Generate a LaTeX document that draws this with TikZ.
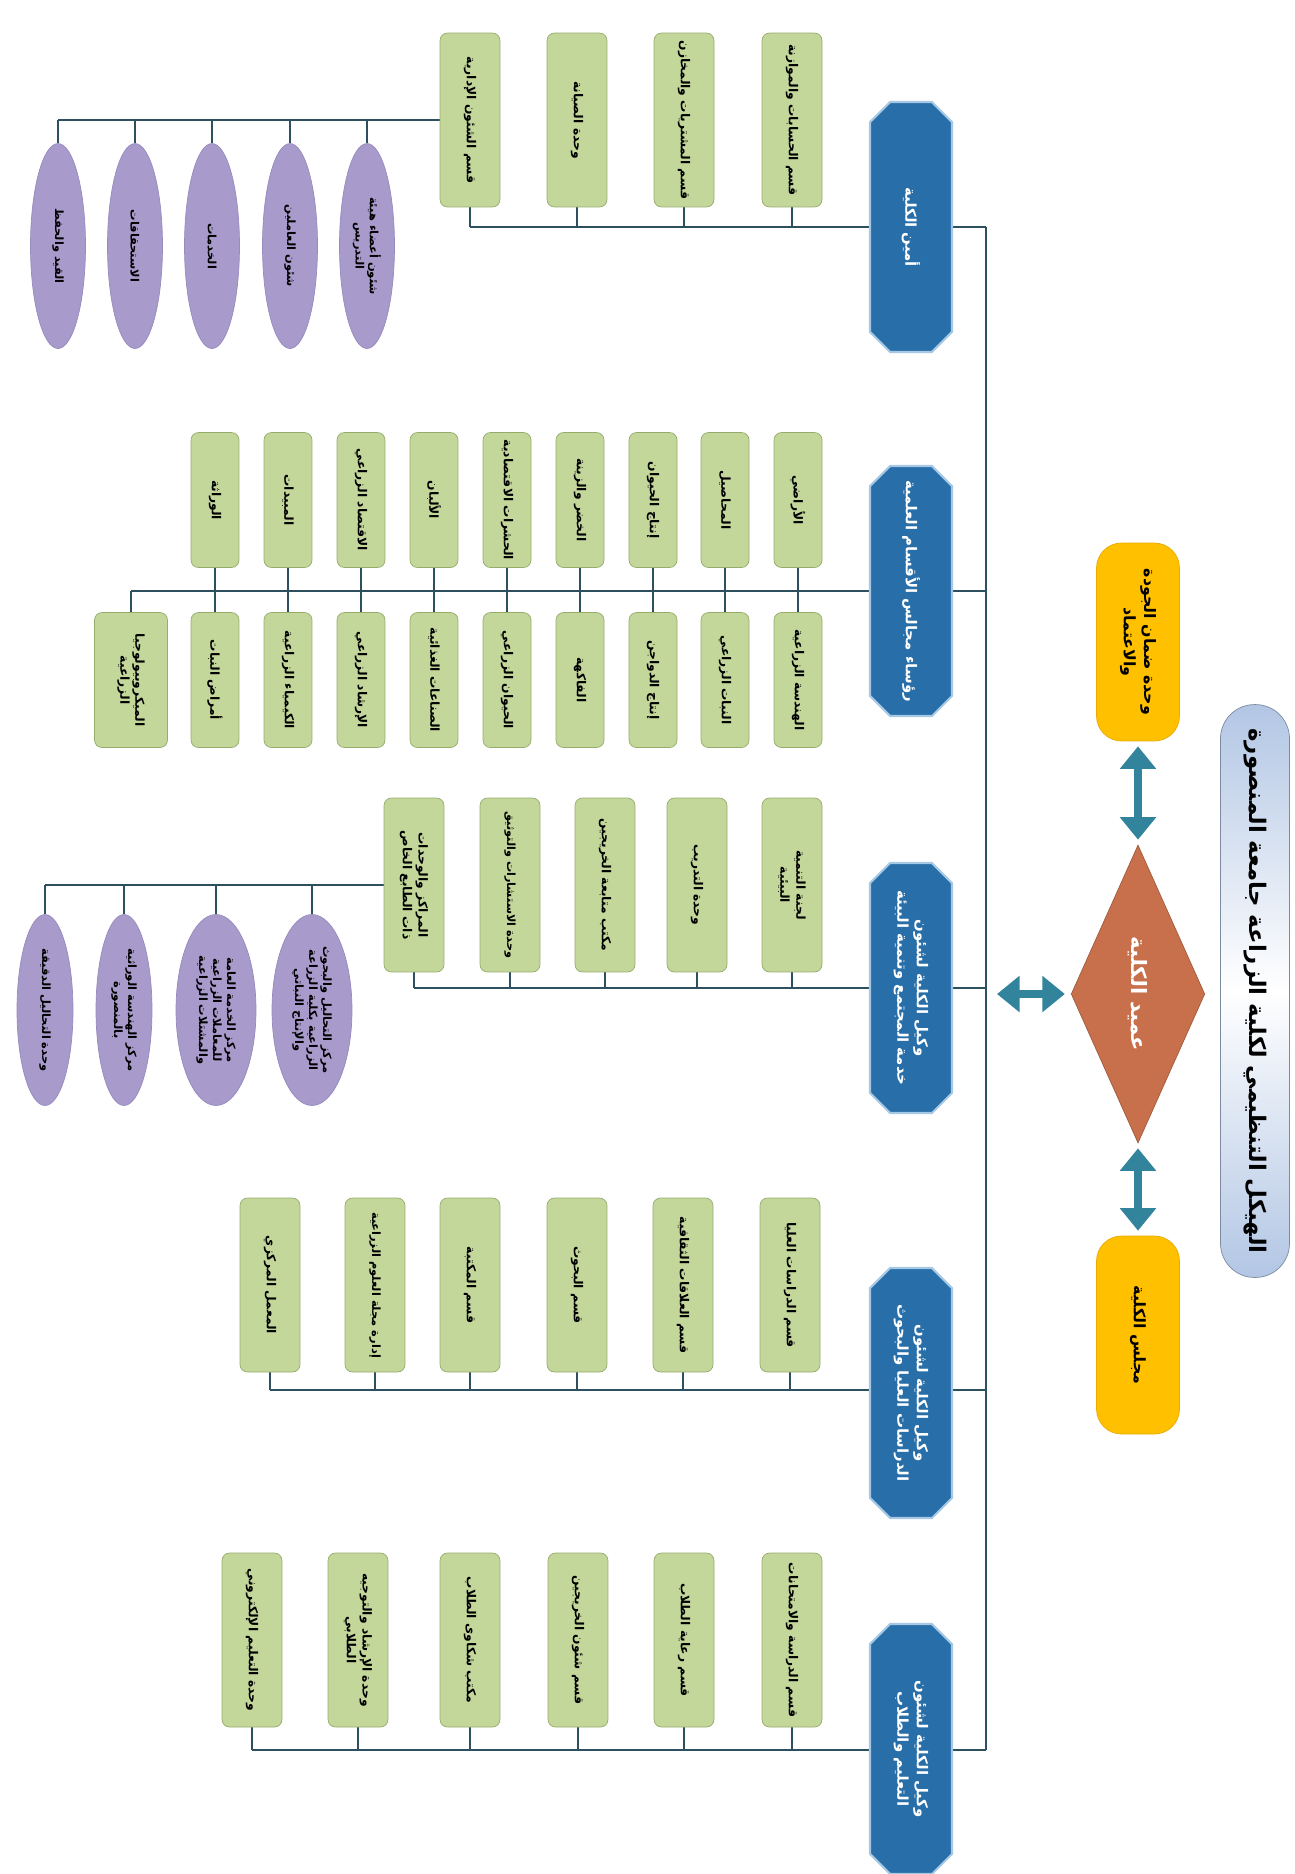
\documentclass[tikz,border=0pt]{standalone}
\usepackage{fontspec}
\newfontfamily\arabicfont[Script=Arabic]{DejaVu Sans}
\TeXXeTstate=1
\usetikzlibrary{shapes.geometric,shapes.misc,arrows.meta,backgrounds}

\definecolor{boxgreen}{RGB}{196,215,155}
\definecolor{greenedge}{RGB}{150,172,108}
\definecolor{viceblue}{RGB}{40,110,168}
\definecolor{viceedge}{RGB}{165,200,228}
\definecolor{ovalpurple}{RGB}{168,155,204}
\definecolor{ovaledge}{RGB}{150,138,190}
\definecolor{gold}{RGB}{255,192,0}
\definecolor{goldedge}{RGB}{235,170,0}
\definecolor{deanred}{RGB}{200,112,76}
\definecolor{linkcol}{RGB}{45,80,95}
\definecolor{arrowteal}{RGB}{49,132,155}
\definecolor{titleblue}{RGB}{178,198,228}

\newcommand{\artxt}[1]{\beginR #1\endR}

\tikzset{
  deptbox/.style={rectangle, rounded corners=0.15cm, draw=greenedge, fill=boxgreen,
    rotate=-90, minimum width=3.48cm, minimum height=1.2cm, inner sep=1pt, align=center,
    font=\arabicfont\bfseries\fontsize{7}{9}\selectfont},
  smalldept/.style={deptbox, minimum width=2.7cm, minimum height=0.96cm,
    font=\arabicfont\bfseries\fontsize{7}{8.5}\selectfont},
  vicebox/.style={chamfered rectangle, chamfered rectangle xsep=0.2cm,
    chamfered rectangle ysep=0.2cm, fill=viceblue, draw=viceedge, line width=1.2pt,
    text=white, rotate=-90, minimum width=5cm, minimum height=1.64cm, inner sep=1pt,
    align=center, font=\arabicfont\bfseries\fontsize{8.5}{11}\selectfont},
  unitoval/.style={ellipse, fill=ovalpurple, draw=ovaledge, rotate=-90,
    minimum width=4.1cm, minimum height=1.1cm, inner sep=0pt, align=center,
    font=\arabicfont\bfseries\fontsize{6.5}{8}\selectfont},
  goldbox/.style={rectangle, rounded corners=0.5cm, fill=gold, draw=goldedge, rotate=-90,
    minimum width=3.96cm, minimum height=1.66cm, align=center,
    font=\arabicfont\bfseries\fontsize{9}{11.5}\selectfont},
  deanshape/.style={diamond, fill=deanred, draw=deanred!80!black, text=white, rotate=-90,
    minimum width=5.96cm, minimum height=2.28cm, inner sep=0pt,
    font=\arabicfont\bfseries\fontsize{12}{14}\selectfont},
  titlebar/.style={rectangle, rounded corners=0.68cm, draw=titleblue!70!black,
    top color=titleblue, bottom color=titleblue, middle color=white, rotate=-90,
    minimum width=11.46cm, minimum height=1.38cm,
    font=\arabicfont\bfseries\fontsize{13}{15}\selectfont},
  link/.style={draw=linkcol, line width=1pt},
  twoway/.style={draw=arrowteal, line width=5pt,
    {Triangle[length=0.45cm,width=0.7cm]}-{Triangle[length=0.45cm,width=0.7cm]}},
}

\begin{document}
\begin{tikzpicture}[x=0.02cm, y=-0.02cm]
\useasboundingbox (0,0) rectangle (1295,1874);

% top of the chart
\node[titlebar] (title) at (1255,991) {\artxt{الهيكل التنظيمي لكلية الزراعة جامعة المنصورة}};
\node[deanshape] (dean) at (1138,994) {\artxt{عميد الكلية}};
\node[goldbox] (qual) at (1138,642) {\artxt{وحدة ضمان الجودة}\\\artxt{والاعتماد}};
\node[goldbox] (council) at (1138,1335) {\artxt{مجلس الكلية}};
\coordinate (hub) at (986,994);
\draw[twoway, shorten <=0.1cm, shorten >=0.1cm] (qual) -- (dean);
\draw[twoway, shorten <=0.1cm, shorten >=0.1cm] (dean) -- (council);
\draw[twoway, shorten <=0.12cm, shorten >=0.22cm] (dean) -- (hub);

% vice deans
\node[vicebox] (v1) at (911,227) {\artxt{أمين الكلية}};
\node[vicebox] (v2) at (911,591) {\artxt{رؤساء مجالس الأقسام العلمية}};
\node[vicebox] (v3) at (911,988) {\artxt{وكيل الكلية لشئون}\\\artxt{خدمة المجتمع وتنمية البيئة}};
\node[vicebox] (v4) at (911,1393) {\artxt{وكيل الكلية لشئون}\\\artxt{الدراسات العليا والبحوث}};
\node[vicebox] (v5) at (911,1749) {\artxt{وكيل الكلية لشئون}\\\artxt{التعليم والطلاب}};

% group 1
\node[deptbox] (g1a) at (792,120) {\artxt{قسم الحسابات والموازنة}};
\node[deptbox] (g1b) at (684,120) {\artxt{قسم المشتريات والمخازن}};
\node[deptbox] (g1c) at (577,120) {\artxt{وحدة الصيانة}};
\node[deptbox] (g1d) at (470,120) {\artxt{قسم الشئون الإدارية}};
\node[unitoval] (e1a) at (367,246) {\artxt{شئون أعضاء هيئة}\\\artxt{التدريس}};
\node[unitoval] (e1b) at (290,246) {\artxt{شئون العاملين}};
\node[unitoval] (e1c) at (212,246) {\artxt{الخدمات}};
\node[unitoval] (e1d) at (135,246) {\artxt{الاستحقاقات}};
\node[unitoval] (e1e) at (58,246) {\artxt{القيد والحفظ}};

% group 2
\node[smalldept] (u2a) at (798,500) {\artxt{الأراضي}};
\node[smalldept] (u2b) at (725,500) {\artxt{المحاصيل}};
\node[smalldept] (u2c) at (653,500) {\artxt{إنتاج الحيوان}};
\node[smalldept] (u2d) at (580,500) {\artxt{الخضر والزينة}};
\node[smalldept] (u2e) at (507,500) {\artxt{الحشرات الاقتصادية}};
\node[smalldept] (u2f) at (434,500) {\artxt{الألبان}};
\node[smalldept] (u2g) at (361,500) {\artxt{الاقتصاد الزراعي}};
\node[smalldept] (u2h) at (288,500) {\artxt{المبيدات}};
\node[smalldept] (u2i) at (215,500) {\artxt{الوراثة}};
\node[smalldept] (l2a) at (798,680) {\artxt{الهندسة الزراعية}};
\node[smalldept] (l2b) at (725,680) {\artxt{النبات الزراعي}};
\node[smalldept] (l2c) at (653,680) {\artxt{إنتاج الدواجن}};
\node[smalldept] (l2d) at (580,680) {\artxt{الفاكهة}};
\node[smalldept] (l2e) at (507,680) {\artxt{الحيوان الزراعي}};
\node[smalldept] (l2f) at (434,680) {\artxt{الصناعات الغذائية}};
\node[smalldept] (l2g) at (361,680) {\artxt{الإرشاد الزراعي}};
\node[smalldept] (l2h) at (288,680) {\artxt{الكيمياء الزراعية}};
\node[smalldept] (l2i) at (215,680) {\artxt{أمراض النبات}};
\node[smalldept, minimum height=1.46cm] (l2j) at (131,680) {\artxt{الميكروبيولوجيا}\\\artxt{الزراعية}};

% group 3
\node[deptbox] (g3a) at (792,885) {\artxt{لجنة التنمية}\\\artxt{البيئية}};
\node[deptbox] (g3b) at (697,885) {\artxt{وحدة التدريب}};
\node[deptbox] (g3c) at (605,885) {\artxt{مكتب متابعة الخريجين}};
\node[deptbox, font=\arabicfont\bfseries\fontsize{6.4}{8}\selectfont] (g3d) at (510,885) {\artxt{وحدة الاستشارات والتوثيق}};
\node[deptbox] (g3e) at (414,885) {\artxt{المراكز والوحدات}\\\artxt{ذات الطابع الخاص}};
\node[unitoval, minimum width=3.82cm, minimum height=1.6cm] (e3a) at (312,1010)
  {\artxt{مركز التحاليل والبحوث}\\\artxt{الزراعية بكلية الزراعة}\\\artxt{والإنتاج النباتي}};
\node[unitoval, minimum width=3.82cm, minimum height=1.6cm] (e3b) at (216,1010)
  {\artxt{مركز الخدمة العامة}\\\artxt{للمعاملات الزراعية}\\\artxt{والمشتلات الزراعية}};
\node[unitoval, minimum width=3.82cm, minimum height=1.12cm] (e3c) at (124,1010)
  {\artxt{مركز الهندسة الوراثية}\\\artxt{بالمنصورة}};
\node[unitoval, minimum width=3.82cm, minimum height=1.12cm] (e3d) at (45,1010)
  {\artxt{وحدة التحاليل الدقيقة}};

% group 4
\node[deptbox] (g4a) at (790,1285) {\artxt{قسم الدراسات العليا}};
\node[deptbox] (g4b) at (683,1285) {\artxt{قسم العلاقات الثقافية}};
\node[deptbox] (g4c) at (577,1285) {\artxt{قسم البحوث}};
\node[deptbox] (g4d) at (470,1285) {\artxt{قسم المكتبة}};
\node[deptbox, font=\arabicfont\bfseries\fontsize{6.5}{8}\selectfont] (g4e) at (375,1285) {\artxt{إدارة مجلة العلوم الزراعية}};
\node[deptbox] (g4f) at (270,1285) {\artxt{المعمل المركزي}};

% group 5
\node[deptbox] (g5a) at (792,1640) {\artxt{قسم الدراسة والامتحانات}};
\node[deptbox] (g5b) at (684,1640) {\artxt{قسم رعاية الطلاب}};
\node[deptbox] (g5c) at (578,1640) {\artxt{قسم شئون الخريجين}};
\node[deptbox] (g5d) at (470,1640) {\artxt{مكتب شكاوى الطلاب}};
\node[deptbox] (g5e) at (358,1640) {\artxt{وحدة الإرشاد والتوجيه}\\\artxt{الطلابي}};
\node[deptbox] (g5f) at (252,1640) {\artxt{وحدة التعليم الإلكتروني}};

% connectors behind the boxes
\begin{scope}[on background layer]
  \coordinate (t1) at (986,227);
  \coordinate (t2) at (986,591);
  \coordinate (t3) at (986,988);
  \coordinate (t4) at (986,1390);
  \coordinate (t5) at (986,1750);
  \draw[link] (t1) -- (t5);
  % group 1
  \draw[link] (t1) -- (g1d.east |- t1);
  \foreach \n in {g1a,g1b,g1c,g1d}
    \draw[link] (\n.east) -- (\n.east |- t1);
  \draw[link] (g1d.south) -- (e1e.west |- g1d.south);
  \foreach \n in {e1a,e1b,e1c,e1d,e1e}
    \draw[link] (\n.west) -- (\n.west |- g1d.south);
  % group 2
  \draw[link] (t2) -- (l2j.west |- t2);
  \foreach \n in {u2a,u2b,u2c,u2d,u2e,u2f,u2g,u2h,u2i}
    \draw[link] (\n.east) -- (\n.east |- t2);
  \foreach \n in {l2a,l2b,l2c,l2d,l2e,l2f,l2g,l2h,l2i,l2j}
    \draw[link] (\n.west) -- (\n.west |- t2);
  % group 3
  \draw[link] (t3) -- (g3e.east |- t3);
  \foreach \n in {g3a,g3b,g3c,g3d,g3e}
    \draw[link] (\n.east) -- (\n.east |- t3);
  \draw[link] (g3e.south) -- (e3d.west |- g3e.south);
  \foreach \n in {e3a,e3b,e3c,e3d}
    \draw[link] (\n.west) -- (\n.west |- g3e.south);
  % group 4
  \draw[link] (t4) -- (g4f.east |- t4);
  \foreach \n in {g4a,g4b,g4c,g4d,g4e,g4f}
    \draw[link] (\n.east) -- (\n.east |- t4);
  % group 5
  \draw[link] (t5) -- (g5f.east |- t5);
  \foreach \n in {g5a,g5b,g5c,g5d,g5e,g5f}
    \draw[link] (\n.east) -- (\n.east |- t5);
\end{scope}
\end{tikzpicture}
\end{document}
